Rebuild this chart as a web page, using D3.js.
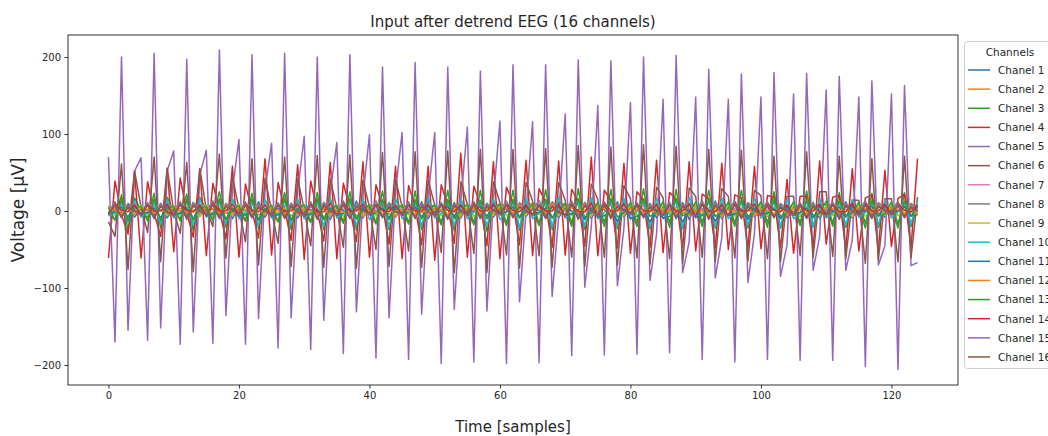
<!DOCTYPE html>
<html>
<head>
<meta charset="utf-8">
<script src="https://cdn.jsdelivr.net/npm/d3@7"></script>
<style>
  body { margin: 0; background: #fff; }
  text { font-family: "DejaVu Sans", sans-serif; fill: #262626; }
</style>
</head>
<body>
<div class="chart-container"></div>
<script>
var width = 1048;
var height = 436;

// samples on the x axis
var samples = d3.range(125);
var xTicks = [0, 20, 40, 60, 80, 100, 120];
var yTicks = [-200, -100, 0, 100, 200];
var channelNames = ["Chanel 1", "Chanel 2", "Chanel 3", "Chanel 4", "Chanel 5", "Chanel 6", "Chanel 7", "Chanel 8",
  "Chanel 9", "Chanel 10", "Chanel 11", "Chanel 12", "Chanel 13", "Chanel 14", "Chanel 15", "Chanel 16"];
var colors = ["#1f77b4", "#ff7f0e", "#2ca02c", "#d62728", "#9467bd", "#8c564b", "#e377c2", "#7f7f7f",
  "#bcbd22", "#17becf", "#1f77b4", "#ff7f0e", "#2ca02c", "#d62728", "#9467bd", "#8c564b"];

// values (µV), one array per channel
var ch1 = [-4,2,-6,9,-8, 3,1,-7,10,-9, 4,0,-8,11,-7, 5,2,-6,9,-10, 6,1,-7,12,-8, 5,3,-5,10,-9, 4,2,-7,11,-11, 6,1,-8,13,-9, 5,0,-6,10,-8, 7,2,-7,12,-10, 6,1,-9,11,-9, 5,3,-6,10,-8, 4,2,-7,9,-7, 3,1,-8,10,-9, 5,0,-6,11,-10, 6,2,-7,12,-8, 4,1,-5,10,-9, 5,3,-7,11,-11, 7,2,-8,13,-10, 5,1,-6,10,-8, 4,0,-7,9,-9, 6,2,-8,11,-10, 5,1,-6,12,-9, 3,2,-7,10,-8, 4,1,-6,9,-5];
var ch2 = [6,3,8,2,5, 4,2,7,1,3, 2,0,5,-1,2, 0,-2,3,-3,0, -2,-4,1,-5,-2, -4,-5,-1,-6,-3, -5,-6,-2,-7,-4, -4,-6,-1,-6,-3, -2,-4,1,-4,-1, 1,-1,4,-2,2, 4,2,7,1,5, 7,4,9,3,7, 9,6,11,5,8, 10,7,12,6,9, 9,6,11,5,8, 7,4,9,3,6, 4,2,7,0,3, 1,-1,4,-3,0, -2,-4,1,-6,-3, -4,-6,-1,-8,-5, -6,-7,-3,-9,-6, -5,-7,-2,-8,-5, -3,-5,0,-6,-3, 0,-2,3,-3,0, 2,0,5,-1,3];
var ch3 = [-4,-11,21,-25,17, 1,-9,23,-22,18, 0,-10,22,-26,18, 1,-8,25,-21,15, 1,-13,23,-23,14, 0,-14,24,-24,14, 1,-15,24,-24,14, 1,-16,25,-25,13, 2,-17,26,-24,14, 2,-17,26,-24,13, 3,-18,27,-26,13, 3,-18,27,-26,12, 4,-19,27,-25,12, 4,-19,28,-24,12, 5,-20,29,-24,12, 5,-20,28,-23,11, 5,-20,29,-23,10, 6,-21,28,-23,10, 6,-20,27,-22,10, 6,-20,27,-22,9, 7,-21,25,-22,6, 6,-19,26,-20,8, 8,-20,24,-21,5, 5,-22,23,-21,5, 5,-22,24,-20,6];
var ch4 = [-61,39,-5,-30,52, -61,38,-3,-33,56, -53,43,-2,-34,55, -58,36,1,-36,58, -60,35,0,-35,68, -57,37,2,-38,60, -63,39,0,-39,63, -62,36,3,-40,64, -60,34,6,-43,58, -62,33,5,-44,58, -64,34,7,-42,75, -60,32,8,-45,64, -62,31,10,-44,66, -58,29,11,-47,65, -57,28,12,-46,70, -58,27,13,-48,62, -55,25,14,-47,66, -54,24,15,-48,64, -52,22,16,-48,62, -50,21,17,-49,58, -49,20,18,-48,41, -55,19,19,-49,65, -43,18,20,-50,55, -52,17,21,-50,53, -46,16,22,-48,68];
var ch5 = [70,-170,200,-155,52, 69,-168,205,-152,52, 78,-173,197,-157,47, 79,-172,209,-136,27, 93,-173,203,-140,27, 88,-178,205,-139,25, 97,-180,200,-142,25, 89,-185,203,-131,18, 99,-191,187,-139,25, 102,-193,193,-134,18, 102,-198,187,-128,12, 109,-196,182,-130,15, 117,-198,190,-118,0, 116,-197,190,-111,-7, 126,-188,196,-99,-20, 137,-187,195,-97,-22, 141,-186,200,-90,-30, 145,-184,202,-80,-40, 148,-193,184,-87,-35, 145,-196,178,-93,-30, 148,-193,180,-85,-44, 152,-194,179,-77,-33, 157,-194,175,-77,-38, 148,-202,169,-70,-45, 152,-206,163,-71,-67];
var ch6 = [-14,-33,61,-76,52, 5,-28,70,-66,55, 0,-29,63,-79,55, 2,-20,74,-61,45, 3,-40,68,-70,43, 0,-42,70,-72,42, 2,-45,72,-73,42, 3,-47,73,-74,40, 5,-50,76,-72,41, 6,-52,77,-73,40, 8,-54,78,-80,38, 9,-55,80,-80,38, 11,-57,80,-74,37, 13,-58,81,-73,37, 14,-60,85,-72,35, 15,-60,83,-70,33, 16,-61,86,-69,31, 17,-62,84,-68,30, 19,-60,80,-66,29, 19,-61,79,-65,27, 20,-62,71,-66,19, 19,-58,77,-60,25, 25,-59,71,-62,14, 14,-68,68,-63,16, 16,-66,71,-61,18];
var ch7 = [3,5,7,4,6, 5,7,8,5,7, 6,7,9,5,8, 6,8,9,6,7, 5,7,8,5,6, 4,6,7,4,5, 3,5,6,3,4, 2,4,6,3,4, 2,4,5,2,4, 3,4,6,3,5, 4,5,7,4,6, 5,6,8,5,7, 6,7,8,5,7, 6,7,9,6,8, 5,7,8,5,7, 4,6,7,4,6, 3,5,6,3,5, 2,4,5,2,4, 1,3,4,1,3, 1,3,4,1,3, 2,4,5,2,4, 3,5,6,3,5, 4,6,7,4,6, 5,6,8,5,7, 6,7,8,5,7];
var ch8 = [-2,12,-7,10,2, -3,11,-8,9,1, -2,12,-7,11,2, -1,13,-6,10,3, -2,12,-7,9,2, -3,11,-8,10,1, -2,12,-6,11,2, -1,13,-5,10,3, 0,13,-6,11,3, -1,12,-7,10,2, -2,11,-8,9,1, -1,12,-7,10,2, 0,13,-6,11,3, 1,14,-5,12,4, 0,13,-6,11,3, -1,12,-7,10,2, -2,11,-8,9,1, -1,12,-7,10,2, 0,13,-6,11,3, 1,13,-5,11,3, 0,12,-6,10,2, -1,11,-7,9,1, 0,12,-6,10,2, 1,13,-5,11,3, 0,12,-6,10,2];
var ch9 = [7,-6,2,3,-5, 8,-5,3,2,-6, 7,-6,2,2,-7, 8,-7,1,3,-6, 9,-6,2,2,-5, 8,-5,3,3,-6, 7,-6,2,2,-7, 8,-7,1,3,-6, 9,-6,2,2,-5, 8,-5,3,3,-6, 6,-6,2,1,-7, 8,-7,1,3,-6, 9,-6,2,2,-5, 8,-5,3,3,-6, 7,-6,2,2,-7, 8,-7,1,3,-6, 10,-6,2,2,-5, 8,-5,3,3,-6, 7,-6,2,2,-7, 8,-7,1,3,-6, 9,-6,2,2,-5, 8,-5,3,3,-6, 7,-6,2,2,-7, 8,-7,1,3,-6, 9,-6,2,2,-5];
var ch10 = [-6,-3,10,-15,13, -8,-2,11,-17,14, -9,-2,12,-18,15, -8,-3,11,-17,16, -10,-1,12,-19,15, -9,-2,13,-18,16, -10,-2,12,-20,17, -9,-3,13,-19,16, -11,-1,14,-21,17, -10,-2,13,-20,18, -9,-3,12,-19,17, -10,-2,13,-20,16, -11,-1,14,-22,17, -10,-2,13,-21,18, -9,-3,12,-20,17, -10,-2,13,-19,16, -11,-1,14,-21,17, -10,-2,13,-22,18, -9,-3,12,-20,17, -10,-2,13,-19,16, -9,-1,12,-20,15, -10,-2,13,-21,16, -9,-3,12,-19,15, -8,-2,11,-18,14, -9,-1,12,-17,15];
var ch11 = [-3,-1,5,-8,7, -4,-2,4,-9,6, -5,-3,3,-10,5, -6,-4,2,-11,4, -7,-5,1,-12,3, -7,-5,1,-12,3, -6,-4,2,-11,4, -5,-3,3,-10,5, -4,-2,4,-9,6, -3,-1,5,-8,7, -2,0,6,-7,8, -2,0,6,-7,8, -3,-1,5,-8,7, -4,-2,4,-9,6, -6,-4,2,-11,4, -8,-6,0,-13,2, -9,-7,-1,-14,1, -9,-7,-1,-14,1, -8,-6,0,-13,2, -6,-4,2,-11,4, -5,-3,3,-10,5, -4,-2,4,-9,6, -3,-1,5,-8,7, -2,0,6,-7,8, -2,0,6,-7,8];
var ch12 = [3,1,-4,6,-5, 4,2,-3,7,-4, 5,3,-2,8,-3, 5,3,-2,8,-3, 4,2,-3,7,-4, 3,1,-4,6,-5, 2,0,-5,5,-6, 1,-1,-6,4,-7, 1,-1,-6,4,-7, 2,0,-5,5,-6, 3,1,-4,6,-5, 4,2,-3,7,-4, 5,3,-2,8,-3, 6,4,-1,9,-2, 6,4,-1,9,-2, 5,3,-2,8,-3, 4,2,-3,7,-4, 3,1,-4,6,-5, 2,0,-5,5,-6, 2,0,-5,5,-6, 3,1,-4,6,-5, 4,2,-3,7,-4, 5,3,-2,8,-3, 5,3,-2,8,-3, 4,2,-3,7,-4];
var ch13 = [5,-12,15,-12,4, 6,-13,16,-12,4, 6,-13,15,-12,4, 6,-13,16,-11,2, 7,-13,16,-11,2, 7,-14,16,-11,2, 8,-14,16,-11,2, 7,-14,16,-10,1, 8,-15,15,-11,2, 8,-15,15,-10,1, 8,-15,15,-10,1, 9,-15,14,-10,1, 9,-16,15,-9,0, 9,-16,15,-9,-1, 10,-15,16,-8,-2, 11,-15,16,-8,-2, 11,-15,16,-7,-2, 12,-15,16,-6,-3, 12,-15,15,-7,-3, 12,-16,14,-7,-2, 12,-15,14,-7,-3, 12,-16,14,-6,-3, 13,-16,14,-6,-3, 12,-16,13,-6,-4, 12,-17,13,-6,-5];
var ch14 = [-5,9,1,-1,8, -6,8,0,0,9, -7,9,1,-1,8, -6,10,0,0,9, -5,9,1,-1,8, -6,8,0,0,9, -7,9,-1,-1,10, -6,10,0,0,9, -5,9,1,-1,8, -6,8,0,0,9, -7,9,1,-1,8, -6,10,0,0,9, -5,9,1,-1,8, -6,8,0,0,9, -7,9,-1,-1,10, -6,10,0,0,9, -5,9,1,-1,8, -6,8,0,0,9, -7,9,1,-1,8, -6,10,0,0,9, -5,9,1,-1,8, -6,8,0,0,9, -7,9,-1,-1,10, -6,10,0,0,9, -5,9,1,-1,8];
var ch15 = [-4,8,-9,6,-1, -5,9,-10,7,-2, -6,10,-11,8,-1, -5,9,-10,7,0, -4,8,-9,6,-1, -5,9,-10,7,-2, -6,10,-11,8,-1, -5,9,-10,7,0, -4,8,-9,6,-1, -5,9,-10,7,-2, -6,10,-11,8,-1, -5,9,-10,7,0, -4,8,-9,6,-1, -5,9,-10,7,-2, -6,10,-11,8,-1, -5,9,-10,7,0, -4,8,-9,6,-1, -5,9,-10,7,-2, -6,10,-11,8,-1, -5,9,-10,7,0, -4,8,-9,6,-1, -5,9,-10,7,-2, -6,10,-11,8,-1, -5,9,-10,7,0, -4,8,-9,6,-1];
var ch16 = [-3,7,-8,5,0, -4,8,-9,6,-1, -5,9,-10,7,0, -4,8,-9,6,1, -3,7,-8,5,0, -4,8,-9,6,-1, -5,9,-10,7,0, -4,8,-9,6,1, -3,7,-8,5,0, -4,8,-9,6,-1, -5,9,-10,7,0, -4,8,-9,6,1, -3,7,-8,5,0, -4,8,-9,6,-1, -5,9,-10,7,0, -4,8,-9,6,1, -3,7,-8,5,0, -4,8,-9,6,-1, -5,9,-10,7,0, -4,8,-9,6,1, -3,7,-8,5,0, -4,8,-9,6,-1, -5,9,-10,7,0, -4,8,-9,6,1, -3,7,-8,5,0];

var channels = [ch1, ch2, ch3, ch4, ch5, ch6, ch7, ch8, ch9, ch10, ch11, ch12, ch13, ch14, ch15, ch16];

var plot = { left: 68, right: 958, top: 35, bottom: 385 };

var svg = d3
  .select(".chart-container")
  .append("svg")
  .attr("width", width)
  .attr("height", height);

var x = d3.scaleLinear().domain([-6.2, 130.2]).range([plot.left, plot.right]);
var y = d3.scaleLinear().domain([-226, 228.6]).range([plot.bottom, plot.top]);

// title
svg
  .append("text")
  .attr("x", (plot.left + plot.right) / 2)
  .attr("y", 27)
  .attr("text-anchor", "middle")
  .attr("font-size", "15px")
  .text("Input after detrend EEG (16 channels)");

// lines, drawn in channel order
var line = d3
  .line()
  .x((d, i) => x(samples[i]))
  .y((d) => y(d));

svg
  .append("g")
  .attr("class", "lines")
  .selectAll("path")
  .data(channels)
  .enter()
  .append("path")
  .attr("d", line)
  .attr("fill", "none")
  .attr("stroke", (d, i) => colors[i])
  .attr("stroke-width", 1.5)
  .attr("stroke-linejoin", "round");

// axes
var xAxis = d3.axisBottom(x).tickValues(xTicks).tickSize(3.5).tickPadding(3.5);
var yAxis = d3.axisLeft(y).tickValues(yTicks).tickSize(3.5).tickPadding(3.5);

var xAxisDraw = svg
  .append("g")
  .attr("transform", `translate(0,${plot.bottom})`)
  .call(xAxis);
var yAxisDraw = svg
  .append("g")
  .attr("transform", `translate(${plot.left},0)`)
  .call(yAxis);

[xAxisDraw, yAxisDraw].forEach(function (g) {
  g.select(".domain").remove();
  g.selectAll("line").attr("stroke", "#000").attr("stroke-width", 0.8);
  g.selectAll("text")
    .attr("font-size", "10px")
    .attr("font-family", "DejaVu Sans")
    .attr("fill", "#262626");
});

// frame
svg
  .append("rect")
  .attr("x", plot.left)
  .attr("y", plot.top)
  .attr("width", plot.right - plot.left)
  .attr("height", plot.bottom - plot.top)
  .attr("fill", "none")
  .attr("stroke", "#000")
  .attr("stroke-width", 0.8);

// axis labels
svg
  .append("text")
  .attr("x", (plot.left + plot.right) / 2)
  .attr("y", 432)
  .attr("text-anchor", "middle")
  .attr("font-size", "15px")
  .text("Time [samples]");

svg
  .append("text")
  .attr("transform", `translate(24,${(plot.top + plot.bottom) / 2}) rotate(-90)`)
  .attr("text-anchor", "middle")
  .attr("font-size", "17px")
  .text("Voltage [µV]");

// legend
var legend = svg.append("g").attr("class", "legend");

legend
  .append("rect")
  .attr("x", 964.5)
  .attr("y", 41.5)
  .attr("width", 100)
  .attr("height", 327)
  .attr("rx", 3)
  .attr("fill", "#fff")
  .attr("fill-opacity", 0.8)
  .attr("stroke", "#d0d0d0");

legend
  .append("text")
  .attr("x", 1010)
  .attr("y", 55.5)
  .attr("text-anchor", "middle")
  .attr("font-size", "10.5px")
  .text("Channels");

var items = legend
  .selectAll(".item")
  .data(channelNames)
  .enter()
  .append("g")
  .attr("class", "item")
  .attr("transform", (d, i) => `translate(0,${70 + i * 19.13})`);

items
  .append("line")
  .attr("x1", 968)
  .attr("x2", 990)
  .attr("stroke", (d, i) => colors[i])
  .attr("stroke-width", 1.5);

items
  .append("text")
  .attr("x", 998)
  .attr("y", 3.8)
  .attr("font-size", "10.5px")
  .text((d) => d);
</script>
</body>
</html>
